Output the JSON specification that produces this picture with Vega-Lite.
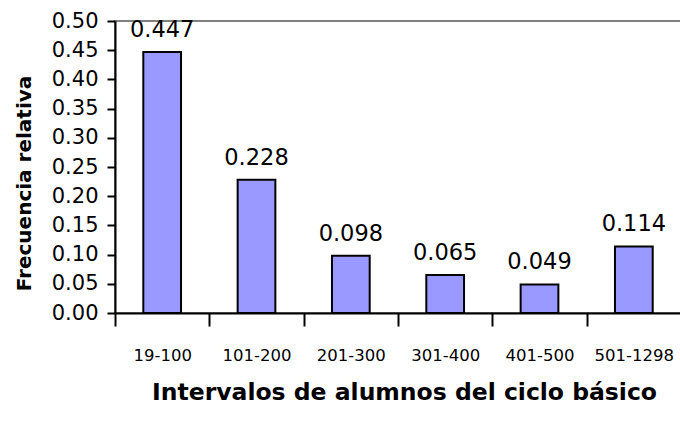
{
  "$schema": "https://vega.github.io/schema/vega-lite/v6.json",
  "autosize": "none",
  "width": 566,
  "height": 292,
  "padding": {"left": 115, "top": 21, "right": 0, "bottom": 110},
  "background": "white",
  "config": {
    "view": {"stroke": "#808080", "strokeWidth": 2},
    "font": "DejaVu Sans"
  },
  "data": {
    "values": [
      {"intervalo": "19-100", "frecuencia": 0.447},
      {"intervalo": "101-200", "frecuencia": 0.228},
      {"intervalo": "201-300", "frecuencia": 0.098},
      {"intervalo": "301-400", "frecuencia": 0.065},
      {"intervalo": "401-500", "frecuencia": 0.049},
      {"intervalo": "501-1298", "frecuencia": 0.114}
    ]
  },
  "encoding": {
    "x": {
      "field": "intervalo",
      "type": "nominal",
      "sort": null,
      "scale": {"paddingInner": 0, "paddingOuter": 0},
      "axis": {
        "title": "Intervalos de alumnos del ciclo básico",
        "labelAngle": 0,
        "labelFont": "DejaVu Sans",
        "labelFontSize": 16.5,
        "labelColor": "black",
        "labelPadding": 34,
        "labelBaseline": "alphabetic",
        "tickBand": "extent",
        "tickSize": 13,
        "tickWidth": 2,
        "tickColor": "black",
        "domainColor": "black",
        "domainWidth": 2,
        "grid": false,
        "titleFont": "DejaVu Sans",
        "titleFontSize": 23.5,
        "titleFontWeight": "bold",
        "titleColor": "black",
        "titleX": 289,
        "titleY": 86,
        "titleBaseline": "alphabetic",
        "titleAlign": "center"
      }
    },
    "y": {
      "field": "frecuencia",
      "type": "quantitative",
      "scale": {"domain": [0, 0.5], "nice": false},
      "axis": {
        "title": "Frecuencia relativa",
        "values": [0, 0.05, 0.1, 0.15, 0.2, 0.25, 0.3, 0.35, 0.4, 0.45, 0.5],
        "format": ".2f",
        "labelFont": "DejaVu Sans",
        "labelFontSize": 21,
        "labelColor": "black",
        "labelPadding": 9,
        "tickSize": 8,
        "tickWidth": 2,
        "tickColor": "black",
        "domainColor": "black",
        "domainWidth": 2,
        "grid": false,
        "titleFont": "DejaVu Sans",
        "titleFontSize": 20,
        "titleFontWeight": "bold",
        "titleColor": "black",
        "titleAngle": 270,
        "titleX": -91,
        "titleY": 162,
        "titleAlign": "center",
        "titleBaseline": "middle"
      }
    }
  },
  "layer": [
    {
      "mark": {"type": "bar", "width": {"band": 0.4}, "fill": "#9999FF", "stroke": "black", "strokeWidth": 2}
    },
    {
      "mark": {"type": "text", "dy": -15, "baseline": "alphabetic", "font": "DejaVu Sans", "fontSize": 22.5, "color": "black"},
      "encoding": {
        "text": {"field": "frecuencia", "type": "quantitative", "format": ".3f"}
      }
    }
  ]
}
